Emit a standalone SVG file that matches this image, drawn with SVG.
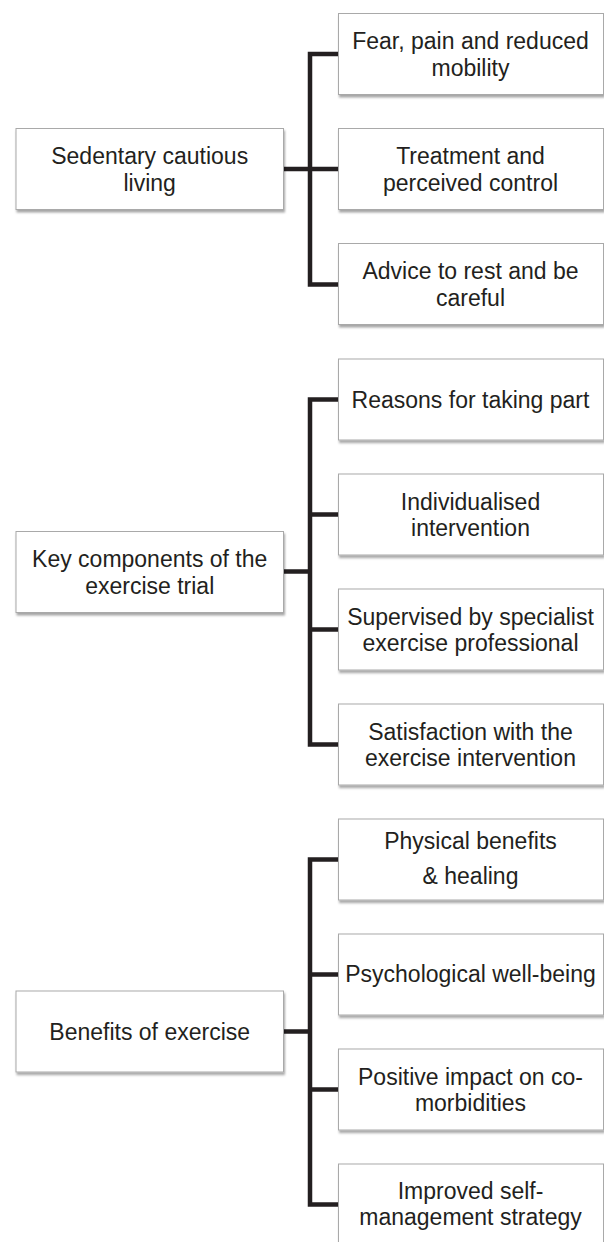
<svg xmlns="http://www.w3.org/2000/svg" width="604" height="1242" viewBox="0 0 604 1242">
<style>
.box{fill:#ffffff;stroke:#a9a9a9;stroke-width:1;filter:url(#sh)}
.t{font-family:"Liberation Sans",Arial,sans-serif;font-size:23px;fill:#231f20;text-anchor:middle}
.c{fill:none;stroke:#231f20;stroke-width:4.5;stroke-linejoin:miter;stroke-linecap:butt}
</style>
<defs>
<filter id="sh" x="-5%" y="-10%" width="115%" height="130%">
<feDropShadow dx="1" dy="2.5" stdDeviation="1.2" flood-color="#000" flood-opacity="0.35"/>
</filter>
</defs>
<rect width="604" height="1242" fill="#ffffff"/>
<g id="connectors">
<path class="c" d="M338,54 H310 V284.5 H338 M310,169 H338 M283.5,169 H310"/>
<path class="c" d="M338,399.5 H310 V744.5 H338 M310,514.5 H338 M310,629.5 H338 M283.5,571.5 H310"/>
<path class="c" d="M338,859.5 H310 V1204.5 H338 M310,974.5 H338 M310,1089.5 H338 M283.5,1031.5 H310"/>
</g>
<g id="n1"><rect class="box" x="16" y="128.5" width="267.5" height="81"/><text class="t" x="149.7" y="164">Sedentary cautious</text><text class="t" x="149.7" y="190.5">living</text></g>
<g id="n1a"><rect class="box" x="338.5" y="13.5" width="265" height="81"/><text class="t" x="470.5" y="49">Fear, pain and reduced</text><text class="t" x="470.5" y="75.5">mobility</text></g>
<g id="n1b"><rect class="box" x="338.5" y="128.5" width="265" height="81"/><text class="t" x="470.5" y="164">Treatment and</text><text class="t" x="470.5" y="190.5">perceived control</text></g>
<g id="n1c"><rect class="box" x="338.5" y="243.5" width="265" height="81"/><text class="t" x="470.5" y="279">Advice to rest and be</text><text class="t" x="470.5" y="305.5">careful</text></g>
<g id="n2"><rect class="box" x="16" y="531.5" width="267.5" height="81"/><text class="t" x="149.7" y="567">Key components of the</text><text class="t" x="149.7" y="593.5">exercise trial</text></g>
<g id="n2a"><rect class="box" x="338.5" y="359" width="265" height="81"/><text class="t" x="470.5" y="407.5">Reasons for taking part</text></g>
<g id="n2b"><rect class="box" x="338.5" y="474" width="265" height="81"/><text class="t" x="470.5" y="509.5">Individualised</text><text class="t" x="470.5" y="536">intervention</text></g>
<g id="n2c"><rect class="box" x="338.5" y="589" width="265" height="81"/><text class="t" x="470.5" y="624.5">Supervised by specialist</text><text class="t" x="470.5" y="651">exercise professional</text></g>
<g id="n2d"><rect class="box" x="338.5" y="704" width="265" height="81"/><text class="t" x="470.5" y="739.5">Satisfaction with the</text><text class="t" x="470.5" y="766">exercise intervention</text></g>
<g id="n3"><rect class="box" x="16" y="991" width="267.5" height="81"/><text class="t" x="149.7" y="1039.5">Benefits of exercise</text></g>
<g id="n3a"><rect class="box" x="338.5" y="819" width="265" height="81"/><text class="t" x="470.5" y="848.5">Physical benefits</text><text class="t" x="470.5" y="883.5">&amp; healing</text></g>
<g id="n3b"><rect class="box" x="338.5" y="934" width="265" height="81"/><text class="t" x="470.5" y="982">Psychological well-being</text></g>
<g id="n3c"><rect class="box" x="338.5" y="1049" width="265" height="81"/><text class="t" x="470.5" y="1084.5">Positive impact on co-</text><text class="t" x="470.5" y="1111">morbidities</text></g>
<g id="n3d"><rect class="box" x="338.5" y="1164" width="265" height="81"/><text class="t" x="470.5" y="1198.5">Improved self-</text><text class="t" x="470.5" y="1225">management strategy</text></g>
</svg>
